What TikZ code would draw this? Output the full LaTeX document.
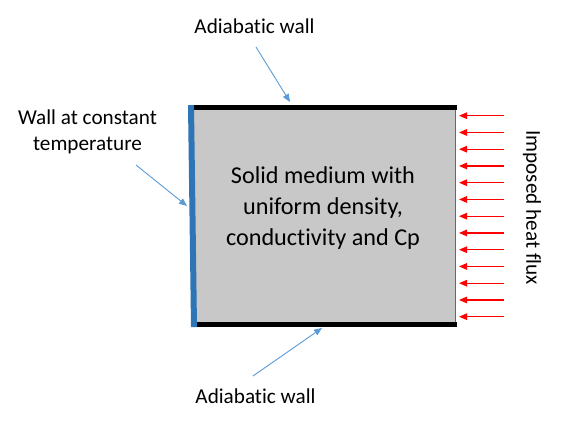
\documentclass[tikz,border=0pt]{standalone}
\usepackage{fontspec}
\setmainfont{Carlito}[Ligatures={NoCommon}]
\usetikzlibrary{arrows.meta}
\definecolor{wallblue}{RGB}{46,117,182}
\definecolor{ptrblue}{RGB}{91,155,213}
\definecolor{medgray}{RGB}{200,200,200}
\tikzset{
  lbl/.style={font=\fontsize{21.2}{26}\selectfont, align=center, inner sep=0pt},
  ptr/.style={draw=ptrblue, line width=0.9pt, -{Triangle[length=8pt,width=6.5pt]}},
  flux/.style={draw=red, line width=1.2pt, -{Triangle[length=8pt,width=6.5pt]}},
  adia/.style={line width=5pt, black}
}
\begin{document}
\begin{tikzpicture}[x=1pt,y=-1pt]
\useasboundingbox (0,0) rectangle (566,432);
% medium
\fill[medgray] (191,106) rectangle (456,325);
\node[font=\fontsize{24.2}{31}\selectfont, align=center, inner sep=0pt] (med) at (323,208) {Solid medium with\\uniform density,\\conductivity and Cp};
% right thin wall
\draw[wallblue, line width=0.8pt] (455.5,108) -- (455.5,324);
% adiabatic walls
\draw[adia] (192,107.5) -- (457,107.5);
\draw[adia] (192,324.5) -- (457,324.5);
% constant temperature wall
\fill[wallblue] (188,105) -- (194,105) -- (197,327) -- (191,327) -- cycle;
\coordinate (lw) at (187,206);
\coordinate (tw) at (290,102);
\coordinate (bw) at (322,328);
% labels
\node[lbl, anchor=base] (top) at (254.5,33) {Adiabatic wall};
\node[lbl, anchor=base] (bot) at (255.5,403) {Adiabatic wall};
\node[lbl] (left) at (87.5,132) {Wall at constant\\temperature};
\coordinate (topS) at (256,47);
\coordinate (botS) at (253,376);
\coordinate (leftS) at (136,165);
\draw[ptr] (topS) -- (tw);
\draw[ptr] (botS) -- (bw);
\draw[ptr] (leftS) -- (lw);
% heat flux arrows
\foreach \i in {0,...,12} {
  \coordinate (fs\i) at (504,{115.7+16.75*\i});
  \coordinate (fe\i) at (459,{115.7+16.75*\i});
  \draw[flux] (fs\i) -- (fe\i);
}
\node[lbl, rotate=-90] (flux) at (532,207.5) {Imposed heat f\kern0pt lux};
\end{tikzpicture}
\end{document}
